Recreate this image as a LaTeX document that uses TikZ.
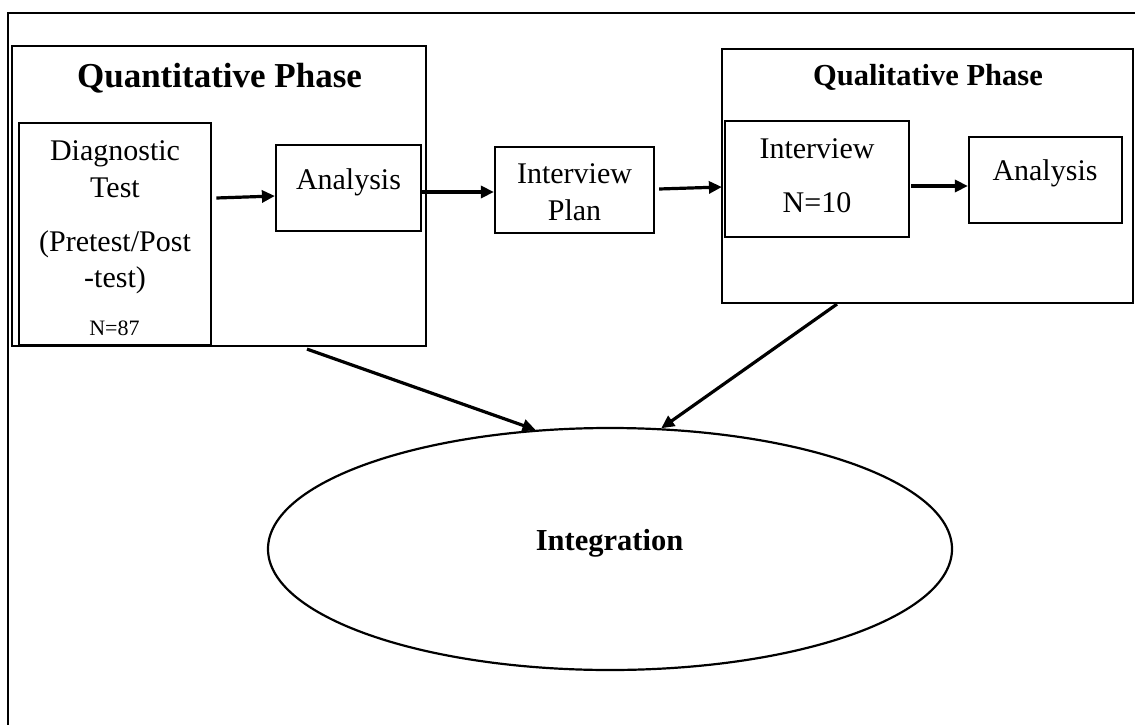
\documentclass[tikz,border=0pt]{standalone}
\usepackage{fontspec}
\setmainfont{Liberation Serif}
\usetikzlibrary{shapes.geometric,arrows.meta}
\tikzset{
  boxnode/.style={draw, line width=2.2pt, inner sep=0pt, rectangle},
  lbl/.style={anchor=base, inner sep=0pt, font=\fontsize{30}{36}\selectfont},
  smalllbl/.style={anchor=base, inner sep=0pt, font=\fontsize{22}{26}\selectfont},
  titlelbl/.style={anchor=base, inner sep=0pt, font=\fontsize{35}{42}\selectfont\bfseries},
  subtitlelbl/.style={anchor=base, inner sep=0pt, font=\fontsize{30.5}{36}\selectfont\bfseries},
  arr/.style={line width=3.2pt, -{Triangle[length=13pt,width=12pt]}},
  frameline/.style={line width=1.6pt}
}
\begin{document}
\begin{tikzpicture}[x=1pt,y=-1pt]
\useasboundingbox (0,0) rectangle (1135,725);
% outer frame (top and left)
\coordinate (ftl) at (8,13);
\coordinate (ftr) at (1135,13);
\coordinate (fbl) at (8,725);
\draw[frameline] (ftr) -- (ftl) -- (fbl);

% boxes
\node[boxnode, minimum width=414pt, minimum height=300pt] (quant) at (219,196) {};
\node[boxnode, line width=2.8pt, minimum width=192pt, minimum height=222pt] (diag) at (115,234) {};
\node[boxnode, minimum width=145pt, minimum height=86pt] (ana1) at (348.5,188) {};
\node[boxnode, minimum width=159pt, minimum height=86pt] (plan) at (574.5,190) {};
\node[boxnode, minimum width=411pt, minimum height=254pt] (qual) at (927.5,176) {};
\node[boxnode, minimum width=184pt, minimum height=116pt] (intv) at (817,179) {};
\node[boxnode, minimum width=153pt, minimum height=86pt] (ana2) at (1045.5,180) {};
\node[draw, ellipse, line width=2.2pt, inner sep=0pt, minimum width=684pt, minimum height=242pt] (integ) at (610,549) {};

% texts
\node[titlelbl] (tquant) at (219.5,87) {Quantitative Phase};
\node[lbl] (td1) at (115,160) {Diagnostic};
\node[lbl] (td2) at (115,197) {Test};
\node[lbl] (td3) at (115,251) {(Pretest/Post};
\node[lbl] (td4) at (115,287) {-test)};
\node[smalllbl] (td5) at (114.5,335) {N=87};
\node[lbl] (ta1) at (348.5,189) {Analysis};
\node[lbl] (tp1) at (574.5,183) {Interview};
\node[lbl] (tp2) at (574.5,220) {Plan};
\node[subtitlelbl] (tqual) at (928,85) {Qualitative Phase};
\node[lbl] (ti1) at (817,158) {Interview};
\node[lbl] (ti2) at (817,212) {N=10};
\node[lbl] (ta2) at (1045,180) {Analysis};
\node[subtitlelbl] (tint) at (609.5,550) {Integration};

% connectors
\draw[arr] ([xshift=4pt,yshift=36pt]diag.east) -- ([yshift=-8pt]ana1.west);
\draw[arr] ([yshift=-4pt]ana1.east) -- ([yshift=-2pt]plan.west);
\draw[arr] ([xshift=4pt,yshift=1pt]plan.east) -- ([xshift=-2pt,yshift=-8pt]intv.west);
\draw[arr] ([xshift=1pt,yshift=-7pt]intv.east) -- ([yshift=-6pt]ana2.west);
\draw[arr] ([xshift=88pt,yshift=-2pt]quant.south) -- (integ.122);
\draw[arr] ([xshift=-90.5pt]qual.south) -- (integ.67);
\end{tikzpicture}
\end{document}
